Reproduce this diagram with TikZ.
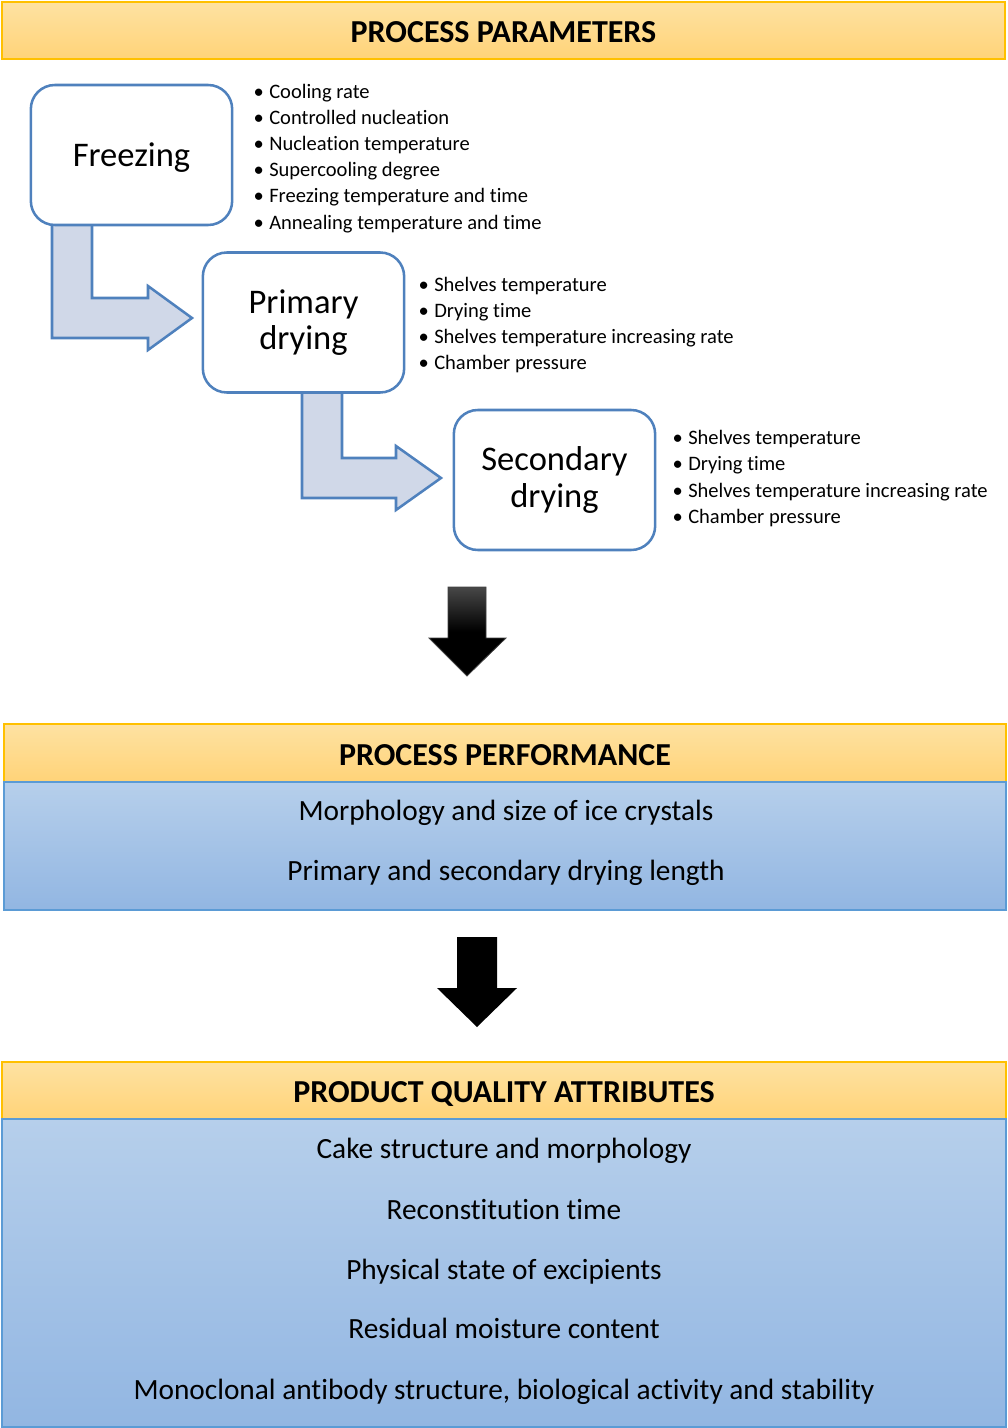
\documentclass[tikz,border=0pt]{standalone}
\usepackage{fontspec}
\setmainfont{Carlito}[Ligatures=CommonOff]
\usetikzlibrary{calc}
\definecolor{hdrtop}{RGB}{254,226,162}
\definecolor{hdrbot}{RGB}{255,211,120}
\definecolor{hdrline}{RGB}{255,192,0}
\definecolor{bodytop}{RGB}{182,207,235}
\definecolor{bodybot}{RGB}{146,182,226}
\definecolor{bodyline}{RGB}{91,155,213}
\definecolor{boxblue}{RGB}{79,129,189}
\definecolor{arrfill}{RGB}{208,216,232}
\newcommand{\mybul}{\llap{\textbullet\hspace{4pt}}}
\begin{document}
\begin{tikzpicture}[x=0.75pt,y=-0.75pt,
  hdr/.style={draw=hdrline, line width=1.1pt, top color=hdrtop, bottom color=hdrbot,
    inner sep=0, text height=18pt, text depth=0pt, font=\fontsize{24}{28}\selectfont\bfseries},
  bodybox/.style={draw=bodyline, line width=0.9pt, top color=bodytop, bottom color=bodybot, inner sep=0},
  btext/.style={anchor=base, inner sep=0, font=\fontsize{22}{26}\selectfont},
  procbox/.style={draw=boxblue, line width=1.9pt, fill=white, rounded corners=18pt,
    minimum width=151pt, minimum height=105pt, align=center, inner sep=0,
    font=\fontsize{25.9}{27.5}\selectfont},
  bentarrow/.style={draw=boxblue, line width=1.9pt, fill=arrfill, line join=miter},
  bul/.style={anchor=base west, inner sep=0, font=\fontsize{15.4}{18}\selectfont}
]
\useasboundingbox (0,0) rectangle (1007,1428);

% header 1
\node[hdr, minimum width=752.25pt, minimum height=42.75pt] (h1) at (503.5,30.5) {PROCESS PARAMETERS};

% bent block arrows (drawn before boxes)
\draw[bentarrow] (52,223) -- (52,338) -- (148,338) -- (148,350) -- (192,318) -- (148,286) -- (148,298) -- (92,298) -- (92,223) -- cycle;
\draw[bentarrow] (302,390) -- (302,498) -- (396,498) -- (396,510) -- (441,478) -- (396,446) -- (396,458) -- (342,458) -- (342,390) -- cycle;

% process boxes
\node[procbox, text height=22pt, text depth=5.2pt] (fr) at (131.5,155) {Freezing};
\node[procbox] (pd) at (303.5,322.5) {Primary\\drying};
\node[procbox] (sd) at (554.5,480) {Secondary\\drying};

% bullet lists
\node[bul] (f1) at (269,98) {\mybul Cooling rate};
\node[bul] (f2) at (269,124.2) {\mybul Controlled nucleation};
\node[bul] (f3) at (269,150.4) {\mybul Nucleation temperature};
\node[bul] (f4) at (269,176.6) {\mybul Supercooling degree};
\node[bul] (f5) at (269,202.8) {\mybul Freezing temperature and time};
\node[bul] (f6) at (269,229) {\mybul Annealing temperature and time};

\node[bul] (p1) at (434,291) {\mybul Shelves temperature};
\node[bul] (p2) at (434,317.3) {\mybul Drying time};
\node[bul] (p3) at (434,343.6) {\mybul Shelves temperature increasing rate};
\node[bul] (p4) at (434,369.9) {\mybul Chamber pressure};

\node[bul] (s1) at (688,444) {\mybul Shelves temperature};
\node[bul] (s2) at (688,470.5) {\mybul Drying time};
\node[bul] (s3) at (688,497) {\mybul Shelves temperature increasing rate};
\node[bul] (s4) at (688,523) {\mybul Chamber pressure};

% black arrow 1 (shaded)
\shade[top color=black!72, bottom color=black, middle color=black, draw=black!75, line width=0.6pt]
  (448,587) -- (486,587) -- (486,638) -- (506,638) -- (467,676) -- (429,638) -- (448,638) -- cycle;

% process performance
\node[hdr, minimum width=751.5pt, minimum height=43.5pt] (h2) at (505,753) {PROCESS PERFORMANCE};
\node[bodybox, minimum width=751.5pt, minimum height=96pt] (b2) at (505,846) {};
\node[btext] (pf1) at (506,820.5) {Morphology and size of ice crystals};
\node[btext] (pf2) at (506,880.5) {Primary and secondary drying length};

% black arrow 2
\fill[black] (457,937) -- (497,937) -- (497,988) -- (517,988) -- (477,1027) -- (437,988) -- (457,988) -- cycle;

% product quality attributes
\node[hdr, minimum width=753pt, minimum height=42.75pt] (h3) at (504,1090.5) {PRODUCT QUALITY ATTRIBUTES};
\node[bodybox, minimum width=753pt, minimum height=231pt] (b3) at (504,1273) {};
\node[btext] (q1) at (504,1158.5) {Cake structure and morphology};
\node[btext] (q2) at (504,1219.5) {Reconstitution time};
\node[btext] (q3) at (504,1279.5) {Physical state of excipients};
\node[btext] (q4) at (504,1338.5) {Residual moisture content};
\node[btext] (q5) at (504,1399.5) {Monoclonal antibody structure, biological activity and stability};
\end{tikzpicture}
\end{document}
